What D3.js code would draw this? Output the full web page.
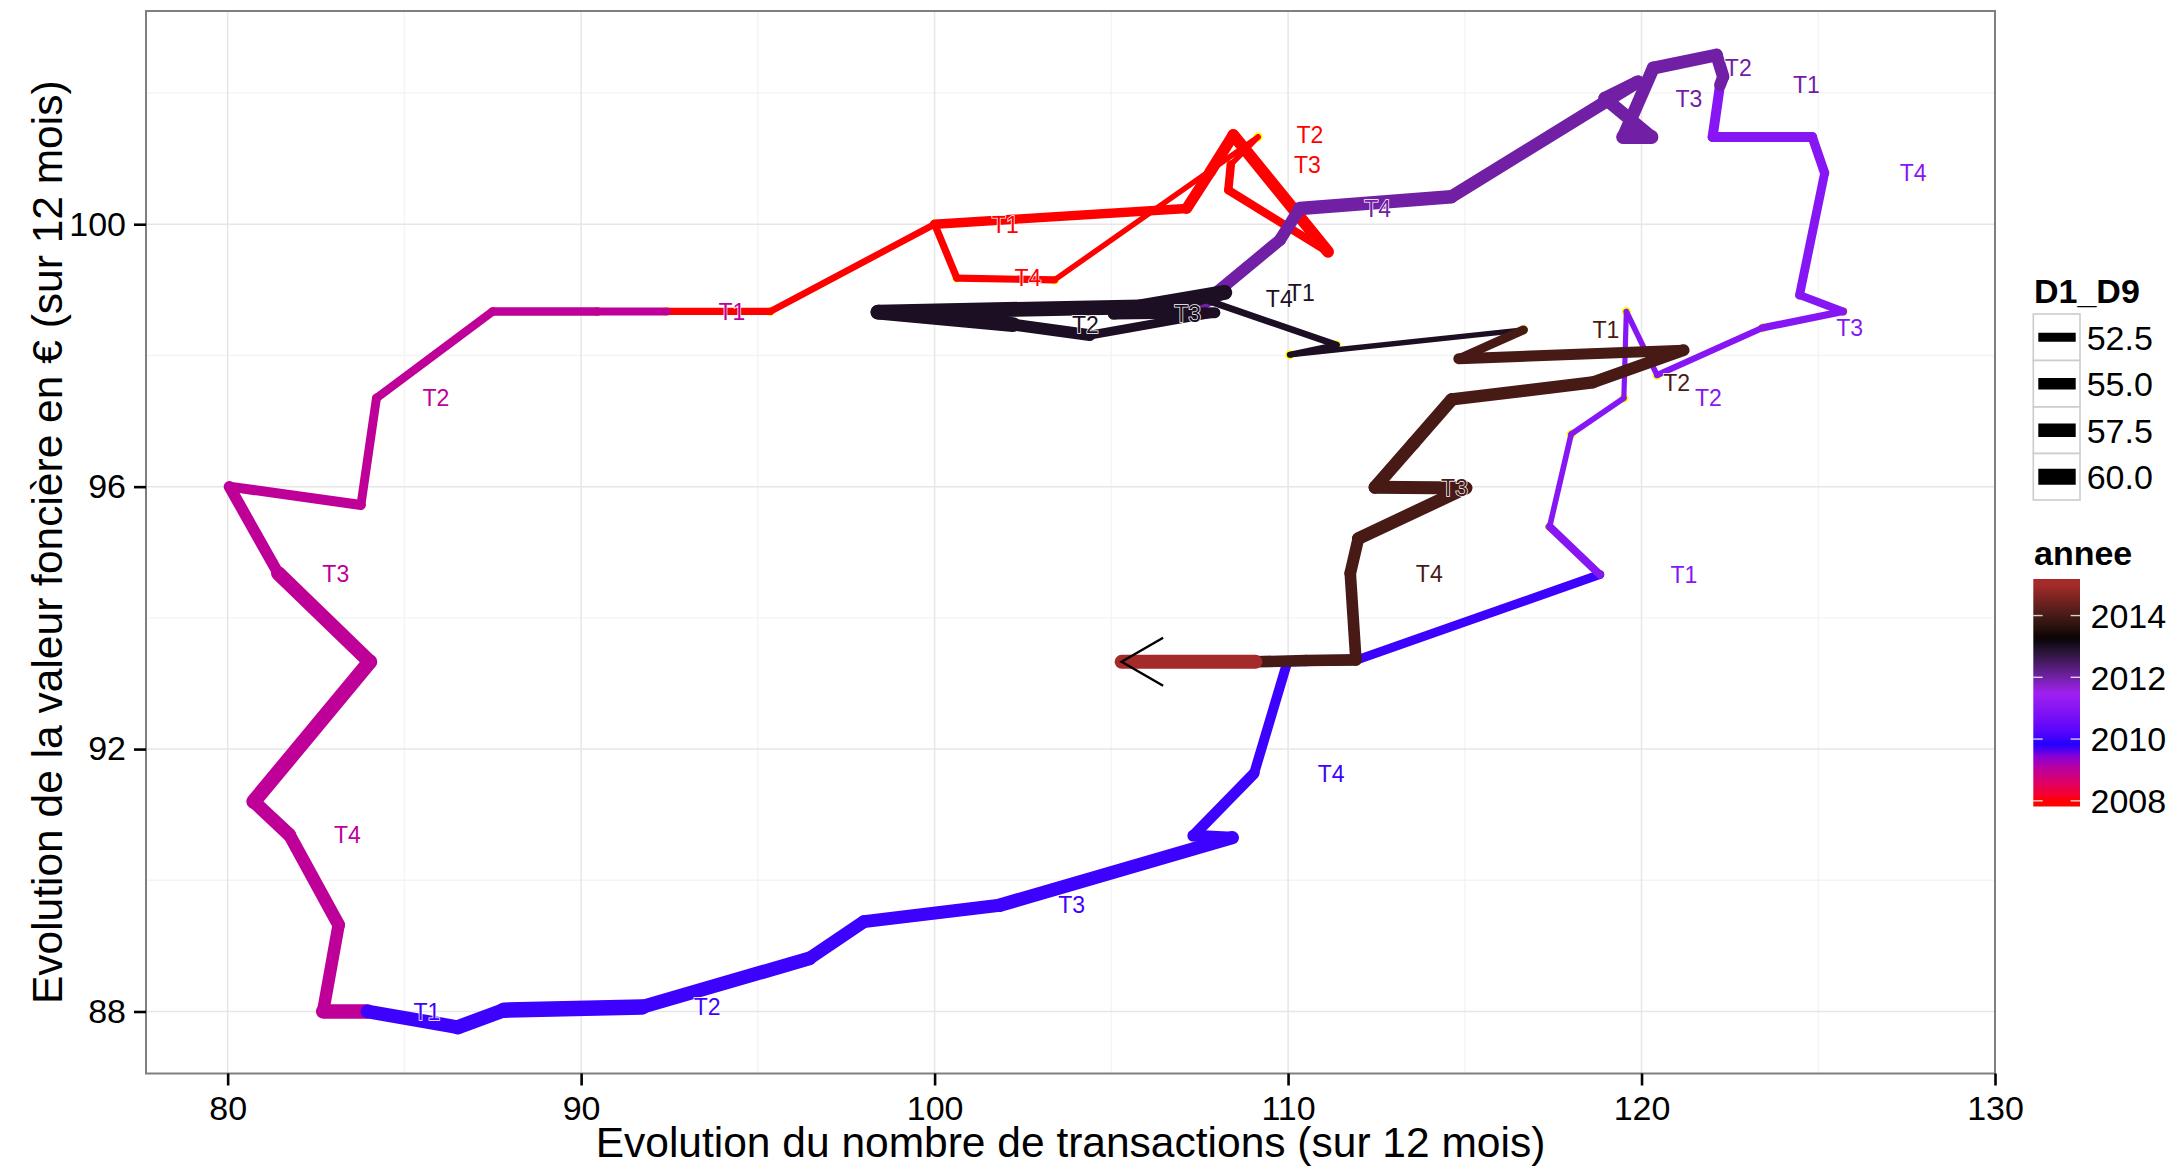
<!DOCTYPE html>
<html>
<head>
<meta charset="utf-8">
<script src="https://cdn.jsdelivr.net/npm/d3@7"></script>
<style>
  body { margin: 0; background: #ffffff; }
  svg { display: block; }
  text { font-family: "Liberation Sans", Arial, Helvetica, sans-serif; }
</style>
</head>
<body>
<svg id="chart" width="2171" height="1167"></svg>
<script>
// ---- Data (monthly points) ----
const transactions = [
  100.00, 107.13, 107.80, 108.45, 111.13, 108.31, 108.38, 109.15, 103.39, 100.63, 100.00, 95.35,   // 2008
   92.42,  90.46,  87.50,  84.21,  83.77,  80.05,  81.43,  84.02,  80.74,  81.75,  83.14, 82.70,   // 2009
   83.96,  86.51,  87.81,  91.73,  96.46,  98.00, 101.84, 108.42, 107.32, 109.04, 109.98, 111.90,  // 2010
  118.82, 117.40, 118.01, 119.50, 119.57, 120.44, 123.42, 125.70, 124.47, 125.18, 124.83, 122.01,  // 2011
  122.22, 122.31, 122.12, 120.33, 119.48, 120.28, 118.96, 119.90, 114.62, 110.33, 109.77, 107.62,  // 2012
  108.21, 105.81,  98.40, 102.22, 104.39, 107.93, 105.06, 106.60, 107.30, 107.60, 111.37, 110.05,  // 2013
  116.66, 114.83, 121.19, 118.62, 114.63, 113.55, 112.46, 115.03, 111.99, 111.76, 111.92, 110.50,  // 2014
  109.08, 105.29                                                                                    // 2015
];
const valeur = [
  100.00, 100.24, 100.80, 101.36,  99.58, 100.52, 100.91, 101.33,  99.15,  99.18, 100.00, 98.67,
   98.67,  98.67,  98.67,  97.35,  95.72,  96.00,  94.68,  93.33,  91.20,  90.69,  89.32, 88.00,
   88.00,  87.76,  88.02,  88.07,  88.81,  89.37,  89.62,  90.65,  90.68,  91.63,  93.33, 93.35,
   94.66,  95.39,  96.80,  97.35,  98.67,  97.70,  98.42,  98.67,  98.92, 100.78, 101.33, 101.33,
  102.12, 102.25, 102.58, 102.38, 101.33, 101.33, 101.92, 102.17, 100.42, 100.24,  99.76, 98.80,
   98.96,  98.74,  98.66,  98.47,  98.31,  98.65,  98.63,  98.72,  98.80,  98.86,  98.16, 98.01,
   98.39,  97.95,  98.08,  97.59,  97.33,  96.66,  95.99,  95.98,  95.21,  94.68,  93.36, 93.35,
   93.33,  93.33
];
const d1d9 = [
  52.9, 54.6, 55.1, 55.6, 51.9, 51.9, 48.7, 48.7, 50.6, 50.6, 50.0, 50.6,
  51.4, 51.9, 51.9, 52.4, 53.5, 55.1, 58.3, 58.9, 57.3, 56.7, 56.2, 58.3,
  57.8, 58.3, 59.4, 57.8, 56.7, 56.7, 57.3, 55.6, 54.6, 53.5, 52.9, 52.4,
  51.4, 48.9, 48.9, 48.4, 48.9, 49.5, 50.6, 51.4, 52.4, 52.9, 53.5, 53.5,
  55.6, 56.2, 56.7, 56.7, 57.8, 56.7, 56.7, 56.7, 57.3, 55.6, 55.6, 55.6,
  58.9, 58.9, 58.9, 55.6, 52.4, 54.6, 54.6, 54.6, 53.5, 50.0, 49.3, 48.7,
  52.4, 54.6, 55.6, 56.2, 56.7, 56.7, 56.7, 56.7, 55.6, 55.3, 55.3, 55.3,
  57.8, 57.8
];
const annee = [
  2008, 2008, 2008, 2008, 2008, 2008, 2008, 2008, 2008, 2008, 2008, 2008,
  2009, 2009, 2009, 2009, 2009, 2009, 2009, 2009, 2009, 2009, 2009, 2009,
  2010, 2010, 2010, 2010, 2010, 2010, 2010, 2010, 2010, 2010, 2010, 2010,
  2011, 2011, 2011, 2011, 2011, 2011, 2011, 2011, 2011, 2011, 2011, 2011,
  2012, 2012, 2012, 2012, 2012, 2012, 2012, 2012, 2012, 2012, 2012, 2012,
  2013, 2013, 2013, 2013, 2013, 2013, 2013, 2013, 2013, 2013, 2013, 2013,
  2014, 2014, 2014, 2014, 2014, 2014, 2014, 2014, 2014, 2014, 2014, 2014,
  2015, 2015
];
const trimestre = [
  "T1","","","T2","","","T3","","","T4","","",
  "T1","","","T2","","","T3","","","T4","","",
  "T1","","","T2","","","T3","","","T4","","",
  "T1","","","T2","","","T3","","","T4","","",
  "T1","","","T2","","","T3","","","T4","","",
  "T1","","","T2","","","T3","","","T4","","",
  "T1","","","T2","","","T3","","","T4","","",
  "",""
];
const xTicks = [80, 90, 100, 110, 120, 130];
const yTicks = [88, 92, 96, 100];
const sizeBreaks = [52.5, 55.0, 57.5, 60.0];
const yearBreaks = [2008, 2010, 2012, 2014];
const colourStops = ["#FF0000", "#0000FF", "#A020F0", "#000000", "#A52A2A"];

const xTitle = "Evolution du nombre de transactions (sur 12 mois)";
const yTitle = "Evolution de la valeur foncière en € (sur 12 mois)";

// ---- Colour helpers: CIE Lab (D65) interpolation ----
function hexToLab(hex) {
  const c = d3.rgb(hex);
  const lin = v => { v /= 255; return v <= 0.04045 ? v / 12.92 : Math.pow((v + 0.055) / 1.055, 2.4); };
  const r = lin(c.r), g = lin(c.g), b = lin(c.b);
  const X = (0.4124564 * r + 0.3575761 * g + 0.1804375 * b) / 0.95047;
  const Y = (0.2126729 * r + 0.7151522 * g + 0.0721750 * b);
  const Z = (0.0193339 * r + 0.1191920 * g + 0.9503041 * b) / 1.08883;
  const f = t => t > 216 / 24389 ? Math.cbrt(t) : (24389 / 27 * t + 16) / 116;
  const fx = f(X), fy = f(Y), fz = f(Z);
  return [116 * fy - 16, 500 * (fx - fy), 200 * (fy - fz)];
}
function labToRgb(L, a, b) {
  const fy = (L + 16) / 116, fx = fy + a / 500, fz = fy - b / 200;
  const finv = t => t * t * t > 216 / 24389 ? t * t * t : (116 * t - 16) / (24389 / 27);
  const X = 0.95047 * finv(fx), Y = finv(fy), Z = 1.08883 * finv(fz);
  let r = 3.2404542 * X - 1.5371385 * Y - 0.4985314 * Z;
  let g = -0.9692660 * X + 1.8760108 * Y + 0.0415560 * Z;
  let bl = 0.0556434 * X - 0.2040259 * Y + 1.0572252 * Z;
  const gam = v => { v = Math.max(0, Math.min(1, v)); return 255 * (v <= 0.0031308 ? 12.92 * v : 1.055 * Math.pow(v, 1 / 2.4) - 0.055); };
  return d3.rgb(gam(r), gam(g), gam(bl)).formatHex();
}
const interpolateLab65 = (a, b) => {
  const A = hexToLab(a), B = hexToLab(b);
  return t => labToRgb(A[0] + (B[0] - A[0]) * t, A[1] + (B[1] - A[1]) * t, A[2] + (B[2] - A[2]) * t);
};

// ---- Layout ----
const W = 2171, H = 1167;
const panel = { left: 146, right: 1995, top: 11, bottom: 1073.5 };
const FONT = "'Liberation Sans', Arial, Helvetica, sans-serif";

const svg = d3.select("#chart");
svg.append("rect").attr("width", W).attr("height", H).attr("fill", "#ffffff");

const x = d3.scaleLinear().domain([77.69, 130.0]).range([panel.left, panel.right]);
const y = d3.scaleLinear().domain([87.055, 103.25]).range([panel.bottom, panel.top]);
const size = d3.scaleLinear().domain([52.5, 60]).range([9.0, 16.0]);
const yearMin = 2008, yearMax = 2015;
const colour = d3.scaleLinear()
  .domain(d3.range(colourStops.length).map(i => yearMin + i * (yearMax - yearMin) / (colourStops.length - 1)))
  .range(colourStops)
  .interpolate(interpolateLab65)
  .clamp(true);

// ---- Panel background & grid ----
svg.append("rect")
  .attr("x", panel.left).attr("y", panel.top)
  .attr("width", panel.right - panel.left).attr("height", panel.bottom - panel.top)
  .attr("fill", "#ffffff");

const xd = x.domain(), yd = y.domain();
const xStep = xTicks[1] - xTicks[0], yStep = yTicks[1] - yTicks[0];
const xMinor = d3.range(xTicks[0] - xStep / 2, xd[1] + 1e-9, xStep).filter(v => v >= xd[0] && v <= xd[1]);
const yMinor = d3.range(yTicks[0] - yStep / 2, yd[1] + 1e-9, yStep).filter(v => v >= yd[0] && v <= yd[1]);

const grid = svg.append("g");
grid.selectAll("line.xmin").data(xMinor).join("line")
  .attr("x1", d => x(d)).attr("x2", d => x(d)).attr("y1", panel.top).attr("y2", panel.bottom)
  .attr("stroke", "#F4F4F4").attr("stroke-width", 1.4);
grid.selectAll("line.ymin").data(yMinor).join("line")
  .attr("y1", d => y(d)).attr("y2", d => y(d)).attr("x1", panel.left).attr("x2", panel.right)
  .attr("stroke", "#F4F4F4").attr("stroke-width", 1.4);
grid.selectAll("line.xmaj").data(xTicks).join("line")
  .attr("x1", d => x(d)).attr("x2", d => x(d)).attr("y1", panel.top).attr("y2", panel.bottom)
  .attr("stroke", "#E6E6E6").attr("stroke-width", 1.5);
grid.selectAll("line.ymaj").data(yTicks).join("line")
  .attr("y1", d => y(d)).attr("y2", d => y(d)).attr("x1", panel.left).attr("x2", panel.right)
  .attr("stroke", "#E6E6E6").attr("stroke-width", 1.5);

// ---- Data layers ----
const pts = transactions.map((t, i) => ({ x: t, y: valeur[i], d: d1d9[i], a: annee[i], q: trimestre[i] }));
const plot = svg.append("g");

// yellow points (underneath)
plot.selectAll("circle.pt").data(pts).join("circle")
  .attr("cx", d => x(d.x)).attr("cy", d => y(d.y)).attr("r", 4.6)
  .attr("fill", "#FFFF00");

// path segments
const segs = d3.pairs(pts);
plot.selectAll("line.seg").data(segs).join("line")
  .attr("x1", d => x(d[0].x)).attr("y1", d => y(d[0].y))
  .attr("x2", d => x(d[1].x)).attr("y2", d => y(d[1].y))
  .attr("stroke", d => colour(d[0].a))
  .attr("stroke-width", d => size(d[0].d))
  .attr("stroke-linecap", "round");

// arrow head at the end
(function () {
  const p0 = pts[pts.length - 2], p1 = pts[pts.length - 1];
  const x0 = x(p0.x), y0 = y(p0.y), x1 = x(p1.x), y1 = y(p1.y);
  const ang = Math.atan2(y1 - y0, x1 - x0);
  const L = 48, A = Math.PI / 6;
  const wings = [ang + Math.PI - A, ang + Math.PI + A].map(a => [x1 + L * Math.cos(a), y1 + L * Math.sin(a)]);
  plot.append("path")
    .attr("d", `M${wings[0][0]},${wings[0][1]}L${x1},${y1}L${wings[1][0]},${wings[1][1]}`)
    .attr("fill", "none").attr("stroke", "#000000").attr("stroke-width", 2.4);
})();

// quarter labels
const labelNudge = 1.02;
plot.selectAll("text.q").data(pts.filter(p => p.q !== "")).join("text")
  .attr("x", d => x(d.x * labelNudge)).attr("y", d => y(d.y))
  .attr("dy", "0.36em")
  .attr("text-anchor", "middle")
  .attr("font-size", 23)
  .attr("fill", d => colour(d.a))
  .attr("stroke", "#ffffff").attr("stroke-width", 1.4)
  .attr("paint-order", "stroke")
  .text(d => d.q);

// panel border
svg.append("rect")
  .attr("x", panel.left).attr("y", panel.top)
  .attr("width", panel.right - panel.left).attr("height", panel.bottom - panel.top)
  .attr("fill", "none").attr("stroke", "#7F7F7F").attr("stroke-width", 2);

// ---- Axes ----
const xAxis = svg.append("g").attr("transform", `translate(0,${panel.bottom})`)
  .call(d3.axisBottom(x).tickValues(xTicks).tickFormat(d3.format("d")).tickSize(12).tickPadding(10));
const yAxis = svg.append("g").attr("transform", `translate(${panel.left},0)`)
  .call(d3.axisLeft(y).tickValues(yTicks).tickFormat(d3.format("d")).tickSize(12).tickPadding(8));
[xAxis, yAxis].forEach(a => {
  a.select(".domain").remove();
  a.selectAll(".tick line").attr("stroke", "#000000").attr("stroke-width", 2.6);
  a.selectAll(".tick text").attr("fill", "#000000").attr("font-size", 34).attr("font-family", FONT);
});

svg.append("text")
  .attr("x", (panel.left + panel.right) / 2).attr("y", 1157)
  .attr("text-anchor", "middle").attr("font-size", 42.5).attr("fill", "#000000")
  .text(xTitle);
svg.append("text")
  .attr("transform", `translate(61.5,${(panel.top + panel.bottom) / 2}) rotate(-90)`)
  .attr("text-anchor", "middle").attr("font-size", 42.5).attr("fill", "#000000")
  .text(yTitle);

// ---- Legend: D1_D9 (size) ----
const lg = svg.append("g");
const keyX = 2033.3, keyW = 46.7, keyH = 46.5, keyTop = 314;
lg.append("text").attr("x", 2034).attr("y", 303)
  .attr("font-size", 34).attr("font-weight", "bold").attr("fill", "#000000").text("D1_D9");
const keys = lg.selectAll("g.key").data(sizeBreaks).join("g")
  .attr("transform", (d, i) => `translate(${keyX},${keyTop + i * keyH})`);
keys.append("rect").attr("width", keyW).attr("height", keyH)
  .attr("fill", "#ffffff").attr("stroke", "#CCCCCC").attr("stroke-width", 1.6);
keys.append("line").attr("x1", 5).attr("x2", keyW - 4.3).attr("y1", keyH / 2).attr("y2", keyH / 2)
  .attr("stroke", "#000000").attr("stroke-width", d => size(d));
keys.append("text").attr("x", 2086.7 - keyX).attr("y", keyH / 2 + 12.3)
  .attr("font-size", 34).attr("fill", "#000000").text(d => d3.format(".1f")(d));

// ---- Legend: annee (colour bar) ----
const barTop = 579, barBottom = 806.5, barX = 2033.3, barW = 46.7;
lg.append("text").attr("x", 2034).attr("y", 565)
  .attr("font-size", 34).attr("font-weight", "bold").attr("fill", "#000000").text("annee");
const half = (yearMax - yearMin) / 19 / 2;
const barScale = d3.scaleLinear().domain([yearMin - half, yearMax + half]).range([barBottom, barTop]);
const grad = svg.append("defs").append("linearGradient").attr("id", "anneeGrad")
  .attr("x1", 0).attr("y1", 1).attr("x2", 0).attr("y2", 0);
const nStops = 40;
grad.selectAll("stop").data(d3.range(nStops + 1)).join("stop")
  .attr("offset", i => i / nStops)
  .attr("stop-color", i => colour(barScale.invert(barBottom - (barBottom - barTop) * i / nStops)));
lg.append("rect").attr("x", barX).attr("y", barTop).attr("width", barW).attr("height", barBottom - barTop)
  .attr("fill", "url(#anneeGrad)");
const bt = lg.selectAll("g.btick").data(yearBreaks).join("g")
  .attr("transform", d => `translate(0,${barScale(d)})`);
bt.append("line").attr("x1", barX).attr("x2", barX + barW / 5).attr("stroke", "#ffffff").attr("stroke-width", 1.4).attr("stroke-opacity", 0.8);
bt.append("line").attr("x1", barX + barW - barW / 5).attr("x2", barX + barW).attr("stroke", "#ffffff").attr("stroke-width", 1.4).attr("stroke-opacity", 0.8);
bt.append("text").attr("x", 2090.5).attr("y", 12.3)
  .attr("font-size", 34).attr("fill", "#000000").text(d => d);
</script>
</body>
</html>
